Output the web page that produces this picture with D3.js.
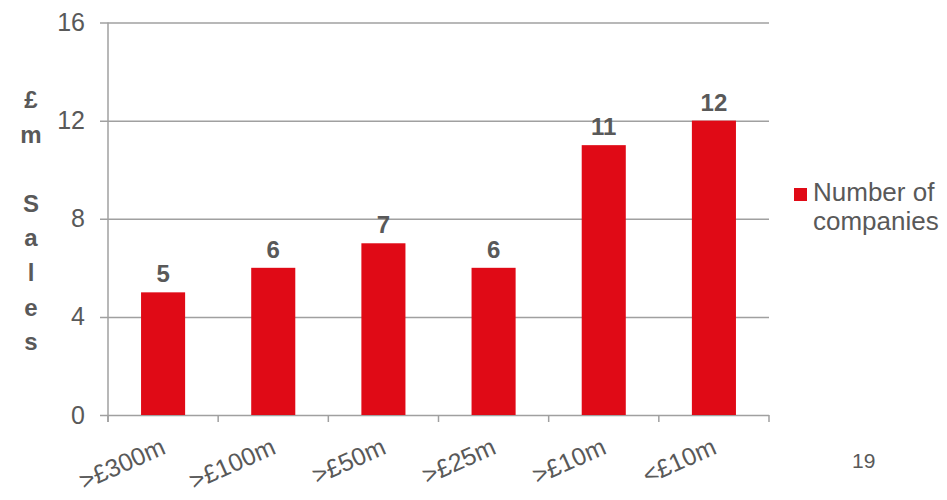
<!DOCTYPE html>
<html>
<head>
<meta charset="utf-8">
<script src="https://cdn.jsdelivr.net/npm/d3@7"></script>
<style>
    body { margin: 0; background: #fff; }
    svg { font-family: Arial, "Liberation Sans", sans-serif; }
</style>
</head>
<body>
<svg id="chart" width="947" height="500"></svg>
<script>
var categories = [">£300m", ">£100m", ">£50m", ">£25m", ">£10m", "<£10m"];
var companies = [5, 6, 7, 6, 11, 12];
var yTicks = [0, 4, 8, 12, 16];
var yTitle = "£m Sales";
var seriesName = ["Number of", "companies"];
var pageNumber = "19";

var svg = d3.select("#chart");
var textColor = "#595959",
    barColor = "#E00A16",
    lineColor = "#A0A0A0";

var plotLeft = 108, plotRight = 769, plotTop = 22.5, plotBottom = 415;

var x = d3.scaleBand()
    .domain(categories)
    .range([plotLeft, plotRight])
    .paddingInner(0.6)
    .paddingOuter(0.3);

var y = d3.scaleLinear()
    .domain([0, 16])
    .range([plotBottom, plotTop]);

// gridlines + y tick labels
var yAxis = svg.append("g")
    .attr("transform", "translate(" + plotLeft + ",0)")
    .call(d3.axisLeft(y).tickValues(yTicks).tickSizeInner(-(plotRight - plotLeft)).tickSizeOuter(0).tickPadding(23));
yAxis.select(".domain").remove();
yAxis.selectAll(".tick line")
    .attr("x1", -8)
    .attr("stroke", lineColor)
    .attr("stroke-width", 1.5);
yAxis.selectAll(".tick text")
    .attr("fill", textColor)
    .style("font-size", "25px")
    .style("font-family", "Arial, 'Liberation Sans', sans-serif");

// vertical axis line
svg.append("line")
    .attr("x1", plotLeft).attr("x2", plotLeft)
    .attr("y1", y(16)).attr("y2", plotBottom + 7)
    .attr("stroke", lineColor)
    .attr("stroke-width", 1.5);

// category boundary ticks
var bounds = d3.range(categories.length + 1).map(function(i) { return plotLeft + i * x.step(); });
svg.append("g").selectAll("line")
    .data(bounds)
    .enter().append("line")
    .attr("x1", function(d) { return d; })
    .attr("x2", function(d) { return d; })
    .attr("y1", plotBottom)
    .attr("y2", plotBottom + 7)
    .attr("stroke", lineColor)
    .attr("stroke-width", 1.5);

// bars
svg.append("g").selectAll("rect")
    .data(companies)
    .enter().append("rect")
    .attr("x", function(d, i) { return x(categories[i]); })
    .attr("y", function(d) { return y(d); })
    .attr("width", x.bandwidth())
    .attr("height", function(d) { return plotBottom - y(d); })
    .attr("fill", barColor);

// value labels
svg.append("g").selectAll("text")
    .data(companies)
    .enter().append("text")
    .attr("x", function(d, i) { return x(categories[i]) + x.bandwidth() / 2; })
    .attr("y", function(d) { return y(d) - 10; })
    .attr("text-anchor", "middle")
    .attr("fill", textColor)
    .style("font-size", "24px")
    .style("font-weight", "bold")
    .text(function(d) { return d; });

// x labels, rotated
var xAxis = svg.append("g")
    .attr("transform", "translate(0," + plotBottom + ")")
    .call(d3.axisBottom(x).tickSize(0));
xAxis.select(".domain").remove();
xAxis.selectAll(".tick text")
    .attr("fill", textColor)
    .attr("text-anchor", "end")
    .attr("x", 0).attr("y", 0).attr("dy", 0)
    .attr("transform", "translate(4,38) rotate(-24)")
    .style("font-size", "25px")
    .style("font-family", "Arial, 'Liberation Sans', sans-serif");

// y title, one letter per line
var title = svg.append("text")
    .attr("x", 31)
    .attr("y", 108)
    .attr("text-anchor", "middle")
    .attr("fill", textColor)
    .style("font-size", "24px")
    .style("font-weight", "bold");
title.selectAll("tspan")
    .data(yTitle.split(""))
    .enter().append("tspan")
    .attr("x", 31)
    .attr("dy", function(d, i) { return i == 0 ? 0 : 34.6; })
    .text(function(d) { return d == " " ? "\u00a0" : d; });

// legend
svg.append("rect")
    .attr("x", 794).attr("y", 188)
    .attr("width", 13).attr("height", 13)
    .attr("fill", barColor);
svg.append("g").selectAll("text")
    .data(seriesName)
    .enter().append("text")
    .attr("x", 813)
    .attr("y", function(d, i) { return 201 + i * 29; })
    .attr("fill", textColor)
    .style("font-size", "26px")
    .text(function(d) { return d; });

// page number
svg.append("text")
    .attr("x", 852)
    .attr("y", 468)
    .attr("fill", textColor)
    .style("font-size", "21px")
    .text(pageNumber);
</script>
</body>
</html>
